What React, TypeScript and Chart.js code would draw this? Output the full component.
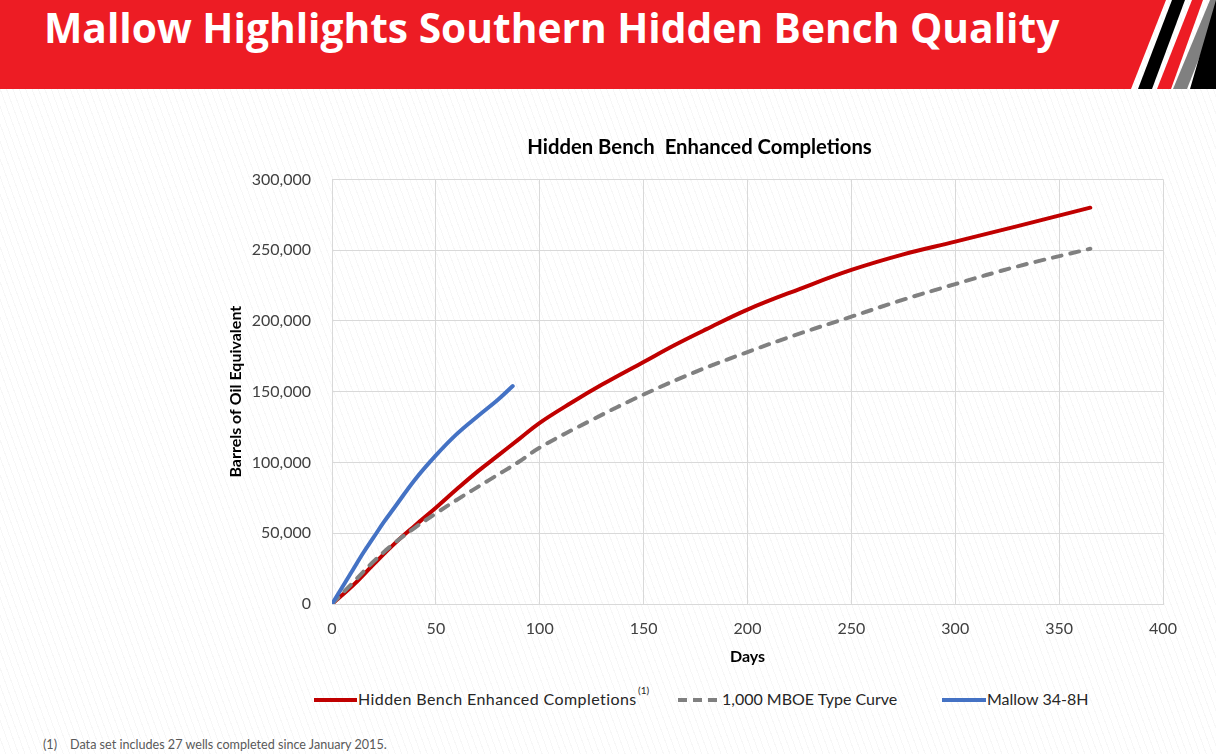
import React, { useEffect, useRef } from "react";
import { Chart, registerables } from "chart.js";

Chart.register(...registerables);

const hbDays = [0, 10, 20, 30, 40, 50, 60, 70, 80, 90, 100, 115, 130, 150, 165, 180, 200, 225, 250, 275, 300, 330, 365];
const hbValues = [0, 13000, 28000, 42500, 55500, 68000, 81000, 93500, 105000, 116500, 128000, 142000, 155000, 171000, 183000, 194000, 208000, 222500, 236000, 247000, 256000, 267000, 280000];

const typeDays = [0, 10, 20, 30, 40, 50, 60, 75, 90, 100, 125, 150, 175, 200, 225, 250, 275, 300, 330, 365];
const typeValues = [0, 15000, 30000, 43000, 54000, 64000, 73500, 87000, 100500, 110500, 130000, 148000, 164000, 178000, 191000, 203000, 215000, 226000, 238500, 251000];

const mallowDays = [0, 5, 10, 15, 20, 25, 30, 40, 50, 60, 70, 80, 87];
const mallowValues = [0, 12000, 24000, 36000, 47000, 58000, 68000, 88000, 105000, 120000, 132500, 144500, 154000];

const xTicks = [0, 50, 100, 150, 200, 250, 300, 350, 400];
const yTicks = [0, 50000, 100000, 150000, 200000, 250000, 300000];

const seriesNames = ["Hidden Bench Enhanced Completions", "1,000 MBOE Type Curve", "Mallow 34-8H"];
const seriesColors = ["#C00000", "#808080", "#4472C4"];

const pts = (xs: number[], ys: number[]) => xs.map((x, i) => ({ x, y: ys[i] }));

const chartFont = "Lato, 'Open Sans', sans-serif";

export default function App() {
  const ref = useRef<HTMLCanvasElement | null>(null);

  useEffect(() => {
    if (!ref.current) return;
    const chart = new Chart(ref.current, {
      type: "line",
      data: {
        datasets: [
          {
            label: seriesNames[0],
            data: pts(hbDays, hbValues),
            borderColor: seriesColors[0],
            borderWidth: 4,
            pointRadius: 0,
            tension: 0.4,
            borderCapStyle: "round",
            order: 2,
          },
          {
            label: seriesNames[1],
            data: pts(typeDays, typeValues),
            borderColor: seriesColors[1],
            borderWidth: 4,
            borderDash: [9, 9],
            borderCapStyle: "round",
            pointRadius: 0,
            tension: 0.4,
            order: 1,
          },
          {
            label: seriesNames[2],
            data: pts(mallowDays, mallowValues),
            borderColor: seriesColors[2],
            borderWidth: 4,
            pointRadius: 0,
            tension: 0.4,
            borderCapStyle: "round",
            order: 0,
          },
        ],
      },
      options: {
        animation: false,
        responsive: false,
        maintainAspectRatio: false,
        layout: { padding: { left: 0, right: 0, top: 0, bottom: 0 } },
        plugins: {
          legend: { display: false },
          tooltip: { enabled: false },
          title: {
            display: true,
            text: "Hidden Bench  Enhanced Completions",
            color: "#000000",
            font: { family: chartFont, size: 20.3, weight: "bold" },
            padding: { top: 10, bottom: 20 },
          },
        },
        scales: {
          x: {
            type: "linear",
            min: 0,
            max: 400,
            afterBuildTicks: (s: any) => {
              s.ticks = xTicks.map((v) => ({ value: v }));
            },
            afterFit: (s: any) => {
              s.height = 66;
              s.paddingLeft = 0;
              s.paddingRight = 14;
            },
            grid: { color: "#D9D9D9", drawTicks: false, lineWidth: 1 },
            border: { color: "#D9D9D9" },
            ticks: {
              color: "#404040",
              font: { family: chartFont, size: 16 },
              padding: 15,
              maxRotation: 0,
            },
            title: {
              display: true,
              text: "Days",
              color: "#000000",
              font: { family: chartFont, size: 16, weight: "bold" },
              padding: { top: 0, bottom: 4 },
            },
          },
          y: {
            type: "linear",
            min: 0,
            max: 300000,
            afterBuildTicks: (s: any) => {
              s.ticks = yTicks.map((v) => ({ value: v }));
            },
            afterFit: (s: any) => {
              s.width = 110;
              s.paddingTop = 0;
              s.paddingBottom = 0;
            },
            grid: { color: "#D9D9D9", drawTicks: false, lineWidth: 1 },
            border: { color: "#D9D9D9" },
            ticks: {
              color: "#404040",
              font: { family: chartFont, size: 16 },
              padding: 21,
              callback: (v: any) => Number(v).toLocaleString("en-US"),
            },
            title: {
              display: true,
              text: "Barrels of Oil Equivalent",
              color: "#000000",
              font: { family: chartFont, size: 16, weight: "bold" },
              padding: { top: 4, bottom: 0 },
            },
          },
        },
      },
    } as any);
    return () => chart.destroy();
  }, []);

  const legendText: React.CSSProperties = {
    position: "absolute",
    top: 688,
    fontFamily: chartFont,
    fontSize: 16,
    color: "#262626",
    whiteSpace: "nowrap",
    lineHeight: "22px",
  };

  return (
    <div
      style={{
        position: "fixed",
        left: 0,
        top: 0,
        width: 1216,
        height: 754,
        overflow: "hidden",
        background:
          "repeating-linear-gradient(70deg, #ffffff 0px, #ffffff 5px, #f7f7f7 5px, #f7f7f7 6px)",
      }}
    >
      <svg
        width={1216}
        height={90}
        style={{ position: "absolute", left: 0, top: 0 }}
      >
        <polygon points="0,0 1166,0 1131,89 0,89" fill="#ED1C24" />
        <polygon points="1172,0 1185,0 1152,89 1138,89" fill="#000000" />
        <polygon points="1192,0 1203,0 1171,89 1157,89" fill="#ED1C24" />
        <polygon points="1210,0 1222,0 1187,89 1173,89" fill="#808080" />
        <polygon points="1226,0 1216,0 1216,0 1190,89 1216,89 1216,30" fill="#000000" />
      </svg>
      <div
        style={{
          position: "absolute",
          left: 44,
          top: -1,
          fontFamily: "'Open Sans', sans-serif",
          fontWeight: 700,
          fontSize: 40.7,
          color: "#ffffff",
          whiteSpace: "nowrap",
          lineHeight: "56px",
        }}
      >
        Mallow Highlights Southern Hidden Bench Quality
      </div>
      <canvas
        ref={ref}
        width={955}
        height={545}
        style={{ position: "absolute", left: 222, top: 125, width: 955, height: 545 }}
      />
      <svg width={1216} height={30} style={{ position: "absolute", left: 0, top: 686 }}>
        <line x1={314} y1={14} x2={357} y2={14} stroke={seriesColors[0]} strokeWidth={4} />
        <line x1={678} y1={14} x2={720} y2={14} stroke={seriesColors[1]} strokeWidth={4} strokeDasharray="9 6" />
        <line x1={942} y1={14} x2={986} y2={14} stroke={seriesColors[2]} strokeWidth={4} />
      </svg>
      <div style={{ ...legendText, left: 358, letterSpacing: "0.42px" }}>
        {seriesNames[0]}
      </div>
      <div
        style={{
          position: "absolute",
          left: 638,
          top: 684,
          fontFamily: chartFont,
          fontSize: 10,
          color: "#262626",
          whiteSpace: "nowrap",
        }}
      >
        (1)
      </div>
      <div style={{ ...legendText, left: 722 }}>{seriesNames[1]}</div>
      <div style={{ ...legendText, left: 987 }}>{seriesNames[2]}</div>
      <div
        style={{
          position: "absolute",
          left: 43,
          top: 737,
          fontFamily: chartFont,
          fontSize: 12.6,
          color: "#595959",
          whiteSpace: "nowrap",
        }}
      >
        (1)<span style={{ marginLeft: 13 }}>Data set includes 27 wells completed since January 2015.</span>
      </div>
    </div>
  );
}
